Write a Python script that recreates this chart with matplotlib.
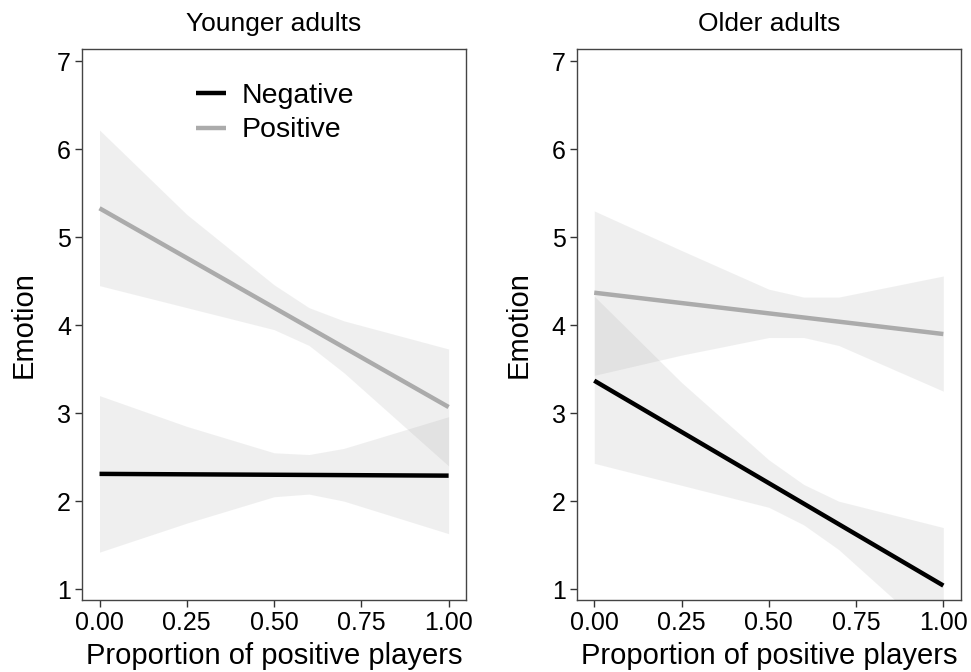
import matplotlib.pyplot as plt
import numpy as np

plt.rcParams['font.family'] = ['Liberation Sans', 'DejaVu Sans']

# x positions where the band edges were read
band_x = [0.0, 0.25, 0.5, 0.6, 0.7, 1.0]
line_x = [0.0, 1.0]

# Younger adults
young_neg_line = [2.31, 2.29]
young_neg_hi = [3.20, 2.85, 2.55, 2.53, 2.60, 2.96]
young_neg_lo = [1.42, 1.75, 2.05, 2.08, 2.00, 1.63]
young_pos_line = [5.33, 3.07]
young_pos_hi = [6.22, 5.26, 4.46, 4.20, 4.05, 3.73]
young_pos_lo = [4.45, 4.20, 3.95, 3.77, 3.46, 2.40]

# Older adults
old_neg_line = [3.37, 1.04]
old_neg_hi = [4.33, 3.35, 2.47, 2.19, 2.00, 1.70]
old_neg_lo = [2.43, 2.18, 1.93, 1.73, 1.45, 0.38]
old_pos_line = [4.37, 3.90]
old_pos_hi = [5.30, 4.85, 4.41, 4.32, 4.32, 4.56]
old_pos_lo = [3.43, 3.66, 3.86, 3.86, 3.77, 3.25]

titles = ['Younger adults', 'Older adults']
xticks = [0.0, 0.25, 0.5, 0.75, 1.0]
xticklabels = ['0.00', '0.25', '0.50', '0.75', '1.00']
yticks = [1, 2, 3, 4, 5, 6, 7]

neg_color = 'black'
pos_color = '#ababab'
band_color = '#999999'

fig = plt.figure(figsize=(9.71, 6.72), dpi=100)
ax1 = fig.add_axes([0.0845, 0.107, 0.3955, 0.82])
ax2 = fig.add_axes([0.594, 0.107, 0.3955, 0.82])

panels = [
    (ax1, young_neg_line, young_neg_lo, young_neg_hi, young_pos_line, young_pos_lo, young_pos_hi),
    (ax2, old_neg_line, old_neg_lo, old_neg_hi, old_pos_line, old_pos_lo, old_pos_hi),
]

for i, (ax, nl, nlo, nhi, pl, plo, phi) in enumerate(panels):
    ax.fill_between(band_x, plo, phi, color=band_color, alpha=0.15, linewidth=0)
    ax.fill_between(band_x, nlo, nhi, color=band_color, alpha=0.15, linewidth=0)
    ax.plot(line_x, nl, color=neg_color, lw=3.2, solid_capstyle='butt', label='Negative')
    ax.plot(line_x, pl, color=pos_color, lw=3.2, solid_capstyle='butt', label='Positive')

    ax.set_xlim(-0.05, 1.05)
    ax.set_ylim(0.875, 7.14)
    ax.set_xticks(xticks)
    ax.set_xticklabels(xticklabels)
    ax.set_yticks(yticks)
    ax.tick_params(labelsize=18, length=5, width=1, color='#333333', pad=3)
    for s in ax.spines.values():
        s.set_color('#444444')
        s.set_linewidth(1)
    ax.set_title(titles[i], fontsize=19, pad=13)
    ax.set_xlabel('Proportion of positive players', fontsize=21, labelpad=5)
    ax.set_ylabel('Emotion', fontsize=21, labelpad=14)

ax1.legend(loc='upper left', bbox_to_anchor=(0.23, 0.985), frameon=False,
           fontsize=20.5, handlelength=1.05, handletextpad=0.55, labelspacing=0.3)

plt.savefig('out.png', dpi=100)
